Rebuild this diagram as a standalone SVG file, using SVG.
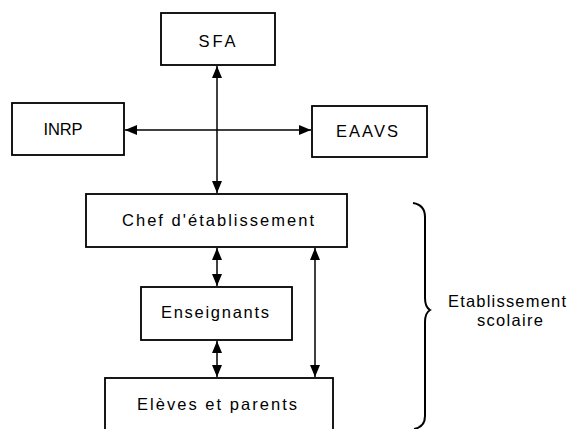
<svg xmlns="http://www.w3.org/2000/svg" width="575" height="429" viewBox="0 0 575 429">
<style>
.box{fill:#fff;stroke:#000;stroke-width:1.8}
.lbl{font-family:"Liberation Sans",Arial,sans-serif;font-size:16.5px;fill:#000;text-anchor:middle}
.con{stroke:#000;stroke-width:1.5;fill:none}
</style>
<defs>
<marker id="ah" viewBox="0 0 12 10" refX="12" refY="5" markerWidth="12" markerHeight="10" markerUnits="userSpaceOnUse" orient="auto-start-reverse">
<path d="M0,0 L12,5 L0,10 Z" fill="#000"/>
</marker>
</defs>
<rect width="575" height="429" fill="#fff"/>
<g id="connectors">
<line class="con" x1="217" y1="66" x2="217" y2="193" marker-start="url(#ah)" marker-end="url(#ah)"/>
<line class="con" x1="125" y1="130" x2="311" y2="130" marker-start="url(#ah)" marker-end="url(#ah)"/>
<line class="con" x1="217" y1="248" x2="217" y2="286" marker-start="url(#ah)" marker-end="url(#ah)"/>
<line class="con" x1="217" y1="341" x2="217" y2="377" marker-start="url(#ah)" marker-end="url(#ah)"/>
<line class="con" x1="315" y1="248" x2="315" y2="377" marker-start="url(#ah)" marker-end="url(#ah)"/>
</g>
<g id="sfa"><rect class="box" x="161" y="13" width="114" height="52"/><text class="lbl" x="217" y="47" textLength="37" lengthAdjust="spacing">SFA</text></g>
<g id="inrp"><rect class="box" x="12" y="103" width="112" height="52"/><text class="lbl" x="63" y="135" textLength="39" lengthAdjust="spacing">INRP</text></g>
<g id="eaavs"><rect class="box" x="312" y="106" width="115" height="51"/><text class="lbl" x="367" y="137" textLength="62" lengthAdjust="spacing">EAAVS</text></g>
<g id="chef"><rect class="box" x="86" y="194" width="261" height="53"/><text class="lbl" x="218" y="226" textLength="192" lengthAdjust="spacing">Chef d'établissement</text></g>
<g id="enseignants"><rect class="box" x="141" y="287" width="151" height="53"/><text class="lbl" x="215" y="318" textLength="108" lengthAdjust="spacing">Enseignants</text></g>
<g id="eleves"><rect class="box" x="105" y="378" width="228" height="60"/><text class="lbl" x="217" y="410" textLength="160" lengthAdjust="spacing">Elèves et parents</text></g>
<g id="etablissement">
<path d="M413,203 Q425,205 425,217 L425,298 Q425,307 430,310 Q425,313 425,322 L425,416 Q425,427 414,429" fill="none" stroke="#000" stroke-width="2"/>
<text class="lbl" x="507" y="307" textLength="118" lengthAdjust="spacing">Etablissement</text>
<text class="lbl" x="510" y="326" textLength="66" lengthAdjust="spacing">scolaire</text>
</g>
</svg>
